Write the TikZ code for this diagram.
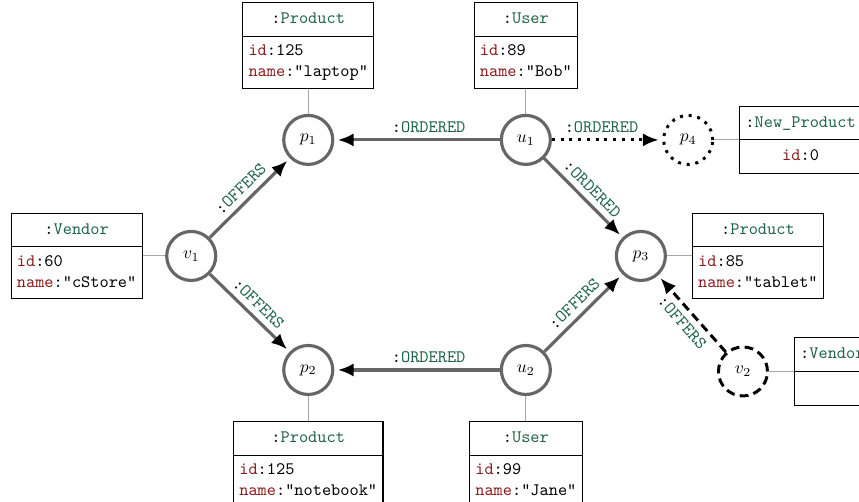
\documentclass[tikz,border=0pt]{standalone}
\usepackage{fontspec}
\usepackage{xcolor}
\usetikzlibrary{arrows.meta,positioning,shapes.multipart}
\definecolor{darkgreen}{HTML}{1E6446}
\definecolor{darkred}{HTML}{8B1A1A}
\newcommand{\lbl}[1]{\texttt{:\textcolor{darkgreen}{#1}}}
\newcommand{\prop}[2]{\texttt{\textcolor{darkred}{#1}:#2}}
\newcommand{\rowstrut}{\rule[-3pt]{0pt}{10.5pt}}

\begin{document}
\begin{tikzpicture}[node distance=0.5cm,auto]
        \tikzstyle{graph_node}=[circle,draw=black!60,line width=1.8pt,minimum size=28pt,inner sep=0pt]
        \tikzstyle{new_node}=[circle,draw=black,line width=1.7pt,minimum size=28pt,inner sep=0pt]
        \tikzstyle{attr_box}=[rectangle split,rectangle split parts=2,draw=black,line width=0.6pt,align=left,font=\ttfamily]
        \tikzstyle{attr_link}=[draw=black!35,line width=0.6pt]
        \tikzstyle{rel}=[draw=black!60,line width=1.8pt,shorten >=2pt,-{Latex[color=black,length=9pt,width=7.5pt]}]
        \tikzstyle{rel_new}=[draw=black,line width=1.7pt,shorten >=2pt,-{Latex[length=9pt,width=7.5pt]}]
        \tikzstyle{rel_label}=[font=\ttfamily,text=black,sloped]
        \useasboundingbox (0,0) rectangle (17.25,10.08);

        % graph nodes
        \node[graph_node] (p1) at (6.19,7.27)  {$p_1$};
        \node[graph_node] (u1) at (10.56,7.27) {$u_1$};
        \node[new_node,dash pattern=on 1.7pt off 3.3pt] (p4) at (13.82,7.27) {$p_4$};
        \node[graph_node] (v1) at (3.84,4.94)  {$v_1$};
        \node[graph_node] (p3) at (12.87,4.94) {$p_3$};
        \node[graph_node] (p2) at (6.19,2.65)  {$p_2$};
        \node[graph_node] (u2) at (10.56,2.65) {$u_2$};
        \node[new_node,dash pattern=on 5pt off 3pt] (v2) at (14.92,2.62) {$v_2$};

        % attribute boxes
        \node[attr_box] (p1_attr) [above=of p1] {\lbl{Product}\strut\nodepart{two}\prop{id}{125}\rowstrut\\\prop{name}{"laptop"}\rowstrut};
        \node[attr_box] (u1_attr) [above=of u1] {\lbl{User}\strut\nodepart{two}\prop{id}{89}\rowstrut\\\prop{name}{"Bob"}\rowstrut};
        \node[attr_box] (p4_attr) [right=of p4] {\lbl{New\_Product}\strut\nodepart{two}\prop{id}{0}\strut};
        \node[attr_box] (v1_attr) [left=0.45cm of v1] {\lbl{Vendor}\strut\nodepart{two}\prop{id}{60}\rowstrut\\\prop{name}{"cStore"}\rowstrut};
        \node[attr_box] (p3_attr) [right=of p3] {\lbl{Product}\strut\nodepart{two}\prop{id}{85}\rowstrut\\\prop{name}{"tablet"}\rowstrut};
        \node[attr_box] (v2_attr) [right=of v2] {\lbl{Vendor}\strut\nodepart{two}\strut};
        \node[attr_box] (p2_attr) [below=of p2] {\lbl{Product}\strut\nodepart{two}\prop{id}{125}\rowstrut\\\prop{name}{"notebook"}\rowstrut};
        \node[attr_box] (u2_attr) [below=of u2] {\lbl{User}\strut\nodepart{two}\prop{id}{99}\rowstrut\\\prop{name}{"Jane"}\rowstrut};

        \path[attr_link]
        (p1) edge (p1_attr)
        (u1) edge (u1_attr)
        (p4) edge (p4_attr)
        (v1) edge (v1_attr)
        (p3) edge (p3_attr)
        (v2) edge (v2_attr)
        (p2) edge (p2_attr)
        (u2) edge (u2_attr);

        % relationships
        \path
        (u1) edge[rel]     node[rel_label,pos=0.43] {\lbl{ORDERED}} (p1)
        (u1) edge[rel]     node[rel_label] {\lbl{ORDERED}} (p3)
        (u2) edge[rel]     node[rel_label,pos=0.43] {\lbl{ORDERED}} (p2)
        (v1) edge[rel]     node[rel_label] {\lbl{OFFERS}}  (p1)
        (v1) edge[rel]     node[rel_label] {\lbl{OFFERS}}  (p2)
        (u2) edge[rel]     node[rel_label] {\lbl{OFFERS}}  (p3)
        (u1) edge[rel_new,dash pattern=on 1.7pt off 3.3pt] node[rel_label,pos=0.45] {\lbl{ORDERED}} (p4)
        (v2) edge[rel_new,dash pattern=on 5pt off 3pt]     node[rel_label,swap] {\lbl{OFFERS}}  (p3);

\end{tikzpicture}
\end{document}
